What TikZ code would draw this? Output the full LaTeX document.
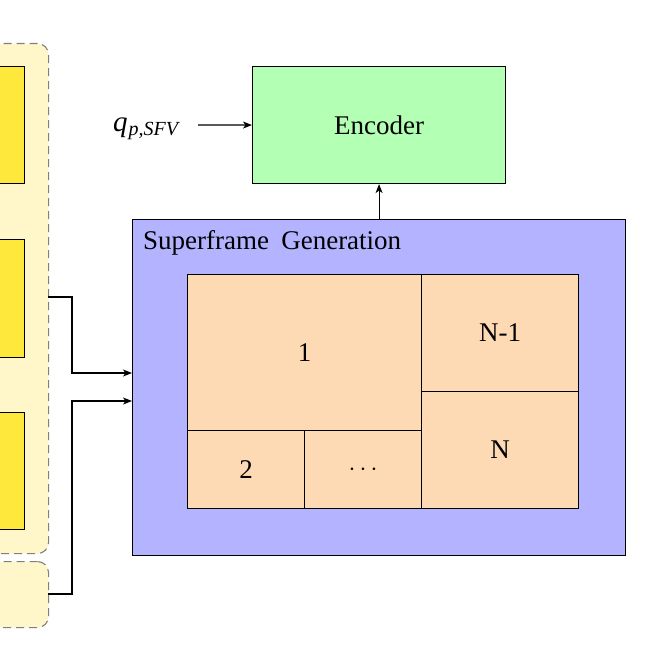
\documentclass[tikz,border=0pt]{standalone}
\usepackage{fontspec}
\setmainfont{Liberation Serif}
\usetikzlibrary{arrows.meta,calc}
\definecolor{ylwbox}{RGB}{255,232,60}
\definecolor{ylwgrp}{RGB}{255,246,202}
\definecolor{sgblue}{RGB}{179,179,255}
\definecolor{peach}{RGB}{253,217,180}
\definecolor{encgreen}{RGB}{179,255,179}
\tikzset{
  lw/.style={line width=1.1pt},
  cell/.style={draw=black, lw, rectangle, inner sep=0pt, anchor=north west, font=\fontsize{27}{32}\selectfont},
  grp/.style={draw=gray, lw, dash pattern=on 8pt off 5pt, rounded corners=11pt, fill=ylwgrp, rectangle, inner sep=0pt, anchor=north west},
  arr/.style={lw, -{Stealth[length=9pt,width=7pt,inset=2.5pt]}},
}
\begin{document}
\begin{tikzpicture}[x=1pt,y=-1pt]
\useasboundingbox (0,0) rectangle (655,655);
% left groups
\node[grp, minimum width=78pt, minimum height=510pt] (grpA) at (-30,43) {};
\node[grp, minimum width=78pt, minimum height=66pt] (grpB) at (-30,561) {};
\node[cell, fill=ylwbox, minimum width=54pt, minimum height=117pt] (y1) at (-30,66) {};
\node[cell, fill=ylwbox, minimum width=54pt, minimum height=118pt] (y2) at (-30,239) {};
\node[cell, fill=ylwbox, minimum width=54pt, minimum height=117pt] (y3) at (-30,412) {};
% superframe generation
\node[cell, fill=sgblue, minimum width=493pt, minimum height=336pt] (sg) at (132,219) {};
\node[anchor=base west, inner sep=0pt, font=\fontsize{27}{32}\selectfont] (sgl) at (143,249) {Superframe\hspace{0.45em}Generation};
% grid
\node[cell, fill=peach, minimum width=234pt, minimum height=156pt] (c1) at (187,274) {1};
\node[cell, fill=peach, minimum width=157pt, minimum height=117pt] (cn1) at (421,274) {N-1};
\node[cell, fill=peach, minimum width=157pt, minimum height=117pt] (cn) at (421,391) {N};
\node[cell, fill=peach, minimum width=117pt, minimum height=78pt] (c2) at (187,430) {2};
\node[cell, fill=peach, minimum width=117pt, minimum height=78pt] (cd) at (304,430) {$\cdots$};
% encoder
\node[cell, fill=encgreen, minimum width=253pt, minimum height=117pt] (enc) at (252,66) {Encoder};
\node[anchor=base west, inner sep=0pt, font=\fontsize{29}{32}\selectfont] (q) at (113,132) {\textit{q}\kern1pt\raisebox{-4pt}{\fontsize{20}{22}\selectfont\textit{p,SFV}}};
% connectors
\coordinate (in1) at (132,373);
\coordinate (in2) at (132,401);
\coordinate (o1) at (48,297);
\coordinate (o2) at (48,594);
\coordinate (qs) at (198,125);
\draw[arr] (o1) -| (72,373) -- (in1);
\draw[arr] (o2) -| (72,401) -- (in2);
\draw[arr] (sg.north) -- (enc.south);
\draw[arr] (qs) -- (enc.west);
\end{tikzpicture}
\end{document}
